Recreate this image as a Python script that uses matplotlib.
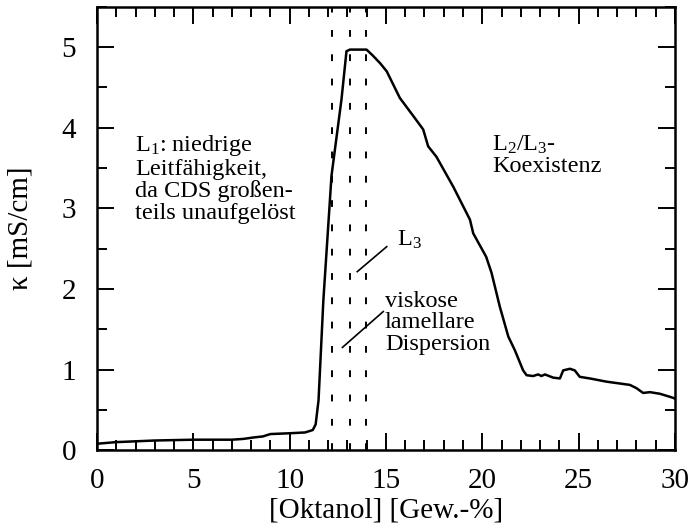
import matplotlib
matplotlib.use("Agg")
import matplotlib.pyplot as plt
from matplotlib.ticker import MultipleLocator

plt.rcParams["font.family"] = ["Liberation Serif", "DejaVu Serif"]
plt.rcParams["mathtext.fontset"] = "custom"
plt.rcParams["mathtext.rm"] = "Liberation Serif"
plt.rcParams["mathtext.it"] = "Liberation Serif"

# Leitfaehigkeit vs. Oktanol-Gehalt
oktanol = [0, 0.5, 1, 2, 3, 4, 5, 6, 7, 7.6, 8.2, 8.6, 9.0, 10.0, 10.8, 11.2,
           11.35, 11.5, 11.75, 12.09, 12.17, 12.35, 12.69, 12.95, 13.13, 13.5,
           13.99, 14.3, 14.7, 15.04, 15.72, 16.5, 16.93, 17.19, 17.62, 18.49,
           19.36, 19.53, 20.2, 20.48, 20.91, 21.35, 21.69, 22.12, 22.3, 22.64,
           22.9, 23.07, 23.25, 23.68, 24.03, 24.2, 24.55, 24.8, 25.06, 25.58,
           26.45, 27.66, 28.0, 28.35, 28.7, 29.22, 29.9, 30]
kappa = [0.08, 0.09, 0.10, 0.11, 0.12, 0.125, 0.13, 0.13, 0.13, 0.14, 0.16,
         0.17, 0.20, 0.21, 0.22, 0.25, 0.32, 0.62, 1.86, 3.10, 3.40, 3.73,
         4.35, 4.95, 4.97, 4.97, 4.97, 4.90, 4.80, 4.70, 4.37, 4.12, 3.98,
         3.77, 3.64, 3.27, 2.86, 2.69, 2.40, 2.20, 1.78, 1.41, 1.24, 0.99,
         0.93, 0.92, 0.94, 0.92, 0.94, 0.90, 0.89, 0.99, 1.01, 0.99, 0.91,
         0.89, 0.85, 0.81, 0.77, 0.71, 0.72, 0.70, 0.65, 0.64]

phase_grenzen = [12.18, 13.15, 13.97]

fig = plt.figure(figsize=(6.88, 5.29), dpi=100)
ax = fig.add_axes([0.141, 0.149, 0.840, 0.838])

ax.plot(oktanol, kappa, color="black", lw=1.8)
for xg in phase_grenzen:
    ax.axvline(xg, color="black", lw=1.4, linestyle=(0, (3.5, 9)))

ax.set_xlim(0, 30)
ax.set_ylim(0, 5.5)
ax.xaxis.set_major_locator(MultipleLocator(5))
ax.xaxis.set_minor_locator(MultipleLocator(1))
ax.yaxis.set_major_locator(MultipleLocator(1))
ax.yaxis.set_minor_locator(MultipleLocator(0.5))
ax.tick_params(which="both", direction="in", top=True, right=True, width=1.4)
ax.tick_params(which="major", length=12, labelsize=21)
ax.tick_params(which="minor", length=7)
ax.tick_params(axis="x", which="major", pad=13)
ax.tick_params(axis="y", which="major", pad=15)
for s in ax.spines.values():
    s.set_linewidth(1.8)

ax.set_xlabel("[Oktanol] [Gew.-%]", fontsize=21, labelpad=2)
ax.set_ylabel("κ [mS/cm]", fontsize=21, labelpad=20)

fs = 17.5
ax.text(1.97, 3.93, "L$_1$: niedrige\nLeitfähigkeit,\nda CDS großen-\nteils unaufgelöst",
        fontsize=fs, va="top", ha="left", linespacing=1.03)
ax.text(20.53, 3.93, "L$_2$/L$_3$-\nKoexistenz",
        fontsize=fs, va="top", ha="left", linespacing=1.03)
ax.text(15.55, 2.75, "L$_3$", fontsize=fs, va="top", ha="left")
ax.text(14.95, 1.98, "viskose\nlamellare\nDispersion",
        fontsize=fs, va="top", ha="left", linespacing=1.03)

ax.plot([13.51, 15.04], [2.215, 2.525], color="black", lw=1.2)
ax.plot([12.74, 14.86], [1.275, 1.72], color="black", lw=1.2)

fig.savefig("out.png", dpi=100)
